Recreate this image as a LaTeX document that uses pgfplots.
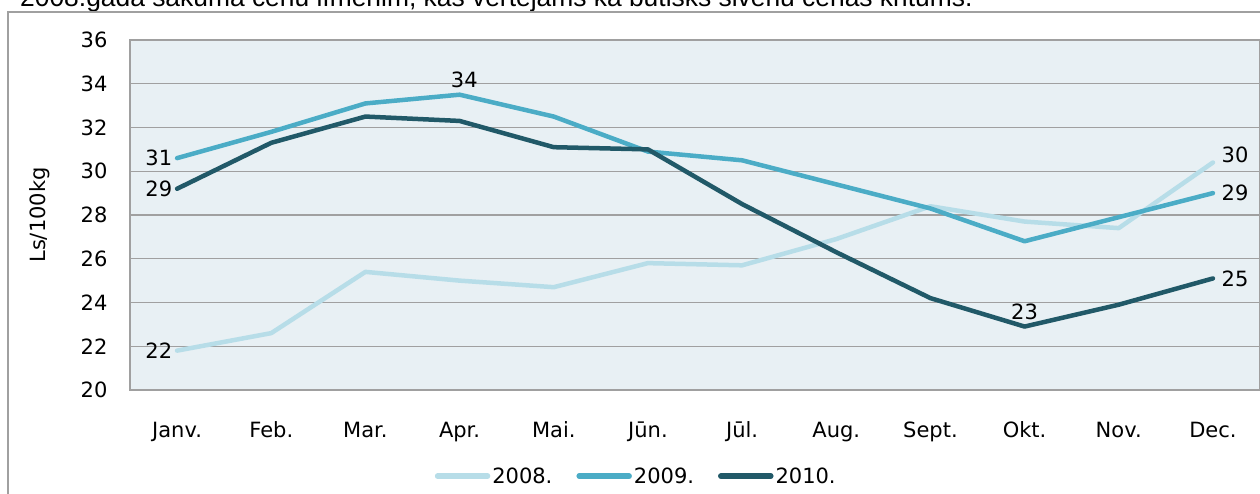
\documentclass[border=0pt]{standalone}
\usepackage{fontspec}
\setmainfont{DejaVu Sans}
\newfontfamily\topfont{Liberation Sans}
\usepackage{pgfplots}
\pgfplotsset{compat=1.18}
\definecolor{cA}{RGB}{183,221,232}
\definecolor{cB}{RGB}{75,172,198}
\definecolor{cC}{RGB}{33,89,104}
\definecolor{bgc}{RGB}{232,240,244}
\definecolor{gridc}{RGB}{160,160,160}
\begin{document}
\begin{tikzpicture}[x=1pt,y=1pt]
\useasboundingbox (0,0) rectangle (1260,493);
\node[anchor=base west,inner sep=0pt,font=\topfont\fontsize{26.4}{30}\selectfont] at (20,486) {2008.gada sākuma cenu līmenim, kas vērtējams kā būtisks sivēnu cenas kritums.};
\draw[gridc,line width=2pt] (8,-20) -- (8,481) -- (1280,481);
\begin{axis}[
  at={(130pt,103pt)}, anchor=south west,
  scale only axis, width=1130pt, height=350pt,
  xmin=-0.5, xmax=11.5, ymin=20, ymax=36,
  font=\fontsize{21}{25}\selectfont,
  /pgf/number format/assume math mode=true,
  axis background/.style={fill=bgc},
  axis line style={gridc,line width=1.2pt},
  xtick={0,...,11},
  xticklabels={Janv.,Feb.,Mar.,Apr.,Mai.,Jūn.,Jūl.,Aug.,Sept.,Okt.,Nov.,Dec.},
  major x tick style={draw=none},
  extra x ticks={-0.5,0.5,...,11.5},
  extra x tick labels={},
  extra x tick style={tick align=outside, major tick length=8pt, major tick style={gridc,line width=1.2pt}, grid=none},
  xticklabel style={yshift=-29pt, text height=15pt, text depth=5pt},
  ytick={20,22,...,36},
  ymajorgrids, major grid style={gridc,line width=1.2pt},
  major y tick style={draw=none},
  yticklabel style={xshift=-19pt},
  ylabel={Ls/100kg},
  every axis y label/.style={at={(axis description cs:-0.0796,0.5)},rotate=90,anchor=center},
  legend columns=3,
  legend style={at={(axis description cs:0.448,-0.246)},anchor=center,draw=none,fill=none,font=\fontsize{21}{25}\selectfont,
    /tikz/every even column/.append style={column sep=22pt}},
  legend image code/.code={\draw[#1,line width=5.5pt,line cap=round] (3pt,0pt) -- (53pt,0pt);},
  legend cell align=left,
  clip=false,
]
\addplot[cA,line width=4.5pt,line join=round,line cap=round] coordinates {
(0,21.8) (1,22.6) (2,25.4) (3,25.0) (4,24.7) (5,25.8) (6,25.7) (7,26.9) (8,28.4) (9,27.7) (10,27.4) (11,30.4)};
\addlegendentry{2008.}
\addplot[cB,line width=4.5pt,line join=round,line cap=round] coordinates {
(0,30.6) (1,31.8) (2,33.1) (3,33.5) (4,32.5) (5,30.9) (6,30.5) (7,29.4) (8,28.3) (9,26.8) (10,27.9) (11,29.0)};
\addlegendentry{2009.}
\addplot[cC,line width=4.5pt,line join=round,line cap=round] coordinates {
(0,29.2) (1,31.3) (2,32.5) (3,32.3) (4,31.1) (5,31.0) (6,28.5) (7,26.3) (8,24.2) (9,22.9) (10,23.9) (11,25.1)};
\addlegendentry{2010.}
\node[anchor=east,inner sep=1pt] at (axis cs:-0.04,30.6) {31};
\node[anchor=east,inner sep=1pt] at (axis cs:-0.04,29.2) {29};
\node[anchor=east,inner sep=1pt] at (axis cs:-0.04,21.8) {22};
\node[anchor=south,inner sep=1pt] at (axis cs:3.05,33.75) {34};
\node[anchor=south,inner sep=1pt] at (axis cs:9,23.15) {23};
\node[anchor=south west,inner sep=1pt] at (axis cs:11.08,30.35) {30};
\node[anchor=west,inner sep=1pt] at (axis cs:11.08,29.0) {29};
\node[anchor=west,inner sep=1pt] at (axis cs:11.08,25.1) {25};
\end{axis}
\end{tikzpicture}
\end{document}
